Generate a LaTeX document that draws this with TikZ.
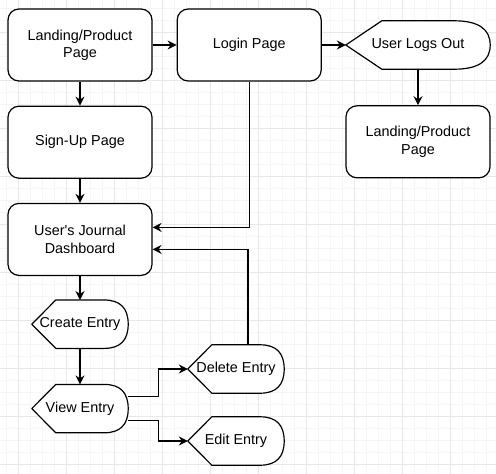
\documentclass[tikz,border=0pt]{standalone}
\usepackage{fontspec}
\setmainfont{Liberation Sans}
\usetikzlibrary{positioning,calc,arrows.meta,backgrounds}

\definecolor{gridmajor}{HTML}{E8E8E8}
\definecolor{gridminor}{HTML}{F6F6F6}

\begin{document}
\begin{tikzpicture}[x=1pt,y=-1pt]
    \tikzset{
        page/.style={draw, rounded corners=11pt, fill=white, line width=1.2pt, minimum width=144pt, minimum height=72pt, inner sep=0pt, align=center, font=\fontsize{14.4}{17.3}\selectfont},
        display/.style={minimum width=#1, minimum height=48pt, inner sep=0pt, align=center, font=\fontsize{14.4}{17.3}\selectfont},
        outline/.style={draw, fill=white, line width=1.2pt, line join=round},
        line/.style={draw, line width=1.2pt, -{Stealth[length=9pt,width=9pt,inset=3pt]}},
    };
    \useasboundingbox (0,0) rectangle (496,474);

    \node [page] (landing) at (80,45) {Landing/Product\\Page};
    \node [page,right=24pt of landing] (login) {Login Page};
    \node [display=144pt,right=24pt of login] (logout) {User Logs Out};
    \node [page,below=36pt of logout] (landing2) {Landing/Product\\Page};
    \node [page,below=24pt of landing] (signup) {Sign-Up Page};
    \node [page,below=24pt of signup] (dash) {User\textquotesingle s Journal\\Dashboard};
    \node [display=96pt,below=24pt of dash] (create) {Create Entry};
    \node [display=96pt,below=36pt of create] (view) {View Entry};
    \node [display=96pt] (delete) at (236,369) {Delete Entry};
    \node [display=96pt] (edit) at (236,441) {Edit Entry};

    % grid and display outlines behind the text
    \begin{pgfonlayer}{background}
        \fill [white] (0,0) rectangle (496,474);
        \begin{scope}[shift={(6,8)}]
            \draw [gridminor, line width=0.8pt, step=12pt] (-6,-8) grid (490,466);
        \end{scope}
        \begin{scope}[shift={(18,32)}]
            \draw [gridmajor, line width=0.8pt, step=48pt] (-18,-32) grid (478,442);
        \end{scope}
        \foreach \shp/\dx in {logout/36pt,create/24pt,view/24pt,delete/24pt,edit/24pt}
            \path [outline] (\shp.west) -- ([xshift=\dx]\shp.north west) -- ([xshift=-\dx]\shp.north east)
                .. controls ($(\shp.north east)!0.3333!([xshift=-\dx]\shp.north east)$) and ($(\shp.north east)!0.3333!(\shp.east)$) .. (\shp.east)
                .. controls ($(\shp.south east)!0.3333!(\shp.east)$) and ($(\shp.south east)!0.3333!([xshift=-\dx]\shp.south east)$) .. ([xshift=-\dx]\shp.south east)
                -- ([xshift=\dx]\shp.south west) -- cycle;
    \end{pgfonlayer}

    \path [line] (landing)--(login);
    \path [line] (login)--(logout);
    \path [line] (logout)--(landing2);
    \path [line] (landing)--(signup);
    \path [line] (signup)--(dash);
    \path [line] (dash)--(create);
    \path [line] (create)--(view);
    \path [line] (login.south) |- ([yshift=12pt]dash.east);
    \path [line] ([xshift=12pt]delete.north) |- ([yshift=-10pt]dash.east);
    \path [line] ([yshift=12pt]view.east) -- ++(30,0) |- (delete.west);
    \path [line] ([yshift=-12pt]view.east) -- ++(30,0) |- (edit.west);
\end{tikzpicture}
\end{document}
